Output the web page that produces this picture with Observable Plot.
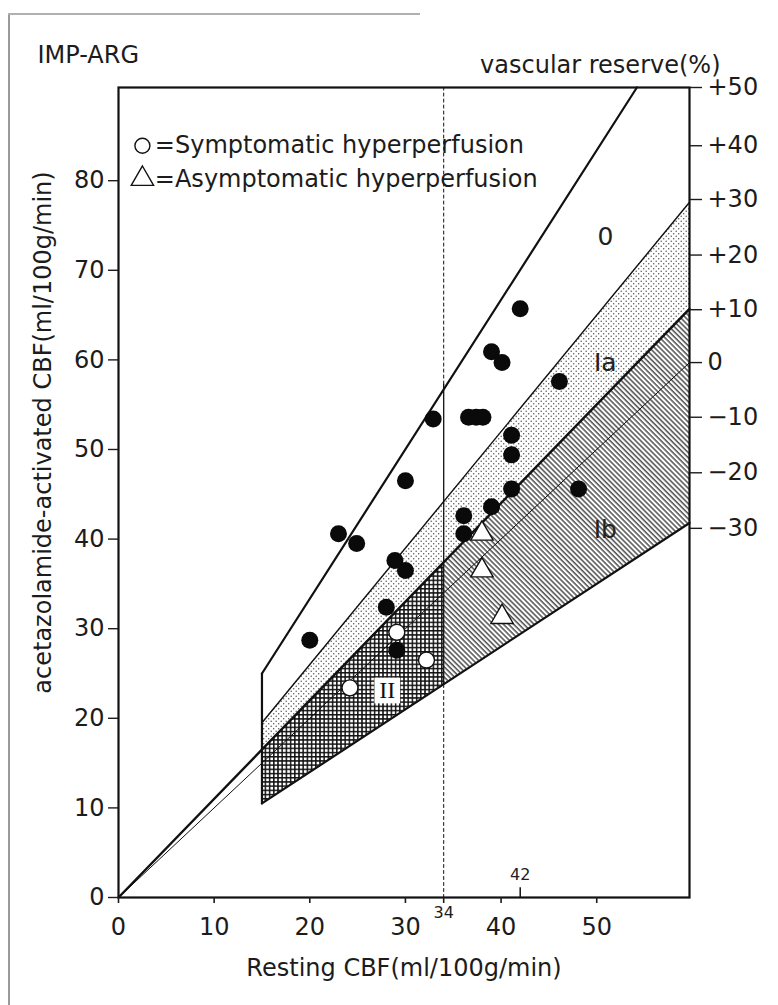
<!DOCTYPE html>
<html><head><meta charset="utf-8">
<script src="https://cdn.jsdelivr.net/npm/d3@7"></script>
<script src="https://cdn.jsdelivr.net/npm/@observablehq/plot@0.6"></script>
<style>
body{margin:0;background:#fff;}
#wrap{position:relative;width:778px;height:1005px;overflow:hidden;}
#wrap svg{position:absolute;left:0;top:0;}
.bl{position:absolute;left:8px;top:13px;width:1.5px;height:992px;background:#9a9a9a;}
.bt{position:absolute;left:8px;top:13px;width:412px;height:1.5px;background:#b0b0b0;}
</style></head><body>
<div id="wrap"></div>
<script>
// ---- axis extents ----
const xDomain = [0, 59.7];
const yDomain = [0, 90.4];
const xTicks = [0, 10, 20, 30, 40, 50];
const yTicks = [0, 10, 20, 30, 40, 50, 60, 70, 80];
const cutoffTick = [34];
const markTick = [42];
// right axis: vascular reserve (%) labels and their position on the y scale
const reserveLabels = ["+50", "+40", "+30", "+20", "+10", "0", "−10", "−20", "−30"];
const reserveY = [90.4, 83.9, 77.9, 71.7, 65.6, 59.7, 53.6, 47.4, 41.2];

// ---- boundary lines (endpoints) ----
const lineTopX = [15, 54.2], lineTopY = [25, 90.4];
const linePlus30X = [15, 59.7], linePlus30Y = [19.5, 77.6];
const linePlus10X = [0, 59.7], linePlus10Y = [0, 65.7];
const lineZeroX = [0, 59.7], lineZeroY = [0, 59.7];
const lineMinus30X = [15, 59.7], lineMinus30Y = [10.5, 41.8];
const leftEdgeX = [15, 15], leftEdgeY = [10.5, 25];
const cutSolidY = [23.8, 57.3];
const cutDashLowY = [0, 23.8];
const cutDashHighY = [57.3, 90.4];

// ---- shaded regions ----
const regIaX = [15, 59.7], regIaLo = [16.5, 65.7], regIaHi = [19.5, 77.6];
const regIIX = [15, 34], regIILo = [10.5, 23.8], regIIHi = [16.5, 37.4];
const regIbX = [34, 59.7], regIbLo = [23.8, 41.8], regIbHi = [37.4, 65.7];

// ---- patients ----
const blackX = [20.0, 23.0, 24.9, 28.0, 28.9, 29.1, 30.0, 30.0, 32.9, 36.6, 37.4, 38.1, 36.1, 36.1, 39.0, 39.0, 40.1, 41.1, 41.1, 41.1, 42.0, 46.1, 48.1];
const blackY = [28.7, 40.6, 39.5, 32.4, 37.6, 27.6, 36.5, 46.5, 53.4, 53.6, 53.6, 53.6, 42.6, 40.6, 43.6, 60.9, 59.7, 51.6, 49.4, 45.6, 65.7, 57.6, 45.6];
const sympX = [24.2, 29.1, 32.2];
const sympY = [23.4, 29.6, 26.5];
const asympX = [38.0, 38.0, 40.1];
const asympY = [40.6, 36.5, 31.3];

// ---- region labels ----
const regionNames = ["0", "Ia", "Ib"];
const regionNameX = [50.9, 50.9, 50.9];
const regionNameY = [73.7, 59.6, 41.0];
const regionIIName = "II";
const regionIIX = 28.1, regionIIY = 23.1;

// ---- legend ----
const legendText = ["=Symptomatic hyperperfusion", "=Asymptomatic hyperperfusion"];
const legendX = 2.5, legendTextX = 3.8;
const legendY = [83.9, 80.2];

const rows2 = (xs, ys) => xs.map((x, i) => ({x, y: ys[i]}));
const band = (xs, lo, hi) => xs.map((x, i) => ({x, lo: lo[i], hi: hi[i]}));

const ink = "#111";
const serif = "Liberation Serif";

const chart = Plot.plot({
  width: 778, height: 1005,
  marginTop: 87, marginBottom: 108, marginLeft: 118, marginRight: 89,
  x: {domain: xDomain},
  y: {domain: yDomain},
  style: {fontFamily: "DejaVu Sans", fontSize: "24px", color: "#1c1c1c", background: "white", overflow: "visible"},
  marks: [
    Plot.areaY(band(regIaX, regIaLo, regIaHi), {x: "x", y1: "lo", y2: "hi", fill: "url(#stip)"}),
    Plot.areaY(band(regIIX, regIILo, regIIHi), {x: "x", y1: "lo", y2: "hi", fill: "url(#cross)"}),
    Plot.areaY(band(regIbX, regIbLo, regIbHi), {x: "x", y1: "lo", y2: "hi", fill: "url(#hatch)"}),
    // cutoff at 34
    Plot.line(rows2([34, 34], cutDashLowY), {x: "x", y: "y", stroke: ink, strokeWidth: 1, strokeDasharray: "3,3"}),
    Plot.line(rows2([34, 34], cutDashHighY), {x: "x", y: "y", stroke: ink, strokeWidth: 1, strokeDasharray: "3,3"}),
    Plot.line(rows2([34, 34], cutSolidY), {x: "x", y: "y", stroke: ink, strokeWidth: 1.3}),
    // boundaries
    Plot.line(rows2(lineZeroX, lineZeroY), {x: "x", y: "y", stroke: ink, strokeWidth: 1}),
    Plot.line(rows2(linePlus30X, linePlus30Y), {x: "x", y: "y", stroke: ink, strokeWidth: 1.4}),
    Plot.line(rows2(linePlus10X, linePlus10Y), {x: "x", y: "y", stroke: ink, strokeWidth: 2.4}),
    Plot.line(rows2(lineMinus30X, lineMinus30Y), {x: "x", y: "y", stroke: ink, strokeWidth: 2.2}),
    Plot.line(rows2(lineTopX, lineTopY), {x: "x", y: "y", stroke: ink, strokeWidth: 2.2}),
    Plot.line(rows2(leftEdgeX, leftEdgeY), {x: "x", y: "y", stroke: ink, strokeWidth: 2.2}),
    // region II label box
    Plot.dot([0], {x: () => regionIIX, y: () => regionIIY, symbol: "square", r: 14.5, fill: "white"}),
    Plot.text([regionIIName], {x: () => regionIIX, y: () => regionIIY, fontFamily: serif, fontSize: 24, fill: ink}),
    // patients
    Plot.dot(rows2(blackX, blackY), {x: "x", y: "y", r: 8.5, fill: "#0a0a0a"}),
    Plot.dot(rows2(sympX, sympY), {x: "x", y: "y", r: 8, fill: "white", stroke: ink, strokeWidth: 1.4}),
    Plot.dot(rows2(asympX, asympY), {x: "x", y: "y", symbol: "triangle", r: 8.3, fill: "white", stroke: ink, strokeWidth: 1.4}),
    // region labels
    Plot.text(regionNames, {x: (d, i) => regionNameX[i], y: (d, i) => regionNameY[i], text: d => d,
      fontFamily: (d) => d === "0" ? "DejaVu Sans" : serif, fontSize: 25, fill: "#222"}),
    // legend
    Plot.dot([0], {x: () => legendX, y: () => legendY[0], r: 7.5, fill: "white", stroke: ink, strokeWidth: 1.4}),
    Plot.dot([0], {x: () => legendX, y: () => legendY[1], symbol: "triangle", r: 8.3, fill: "white", stroke: ink, strokeWidth: 1.4}),
    Plot.text(legendText, {x: () => legendTextX, y: (d, i) => legendY[i], text: d => d, textAnchor: "start", fontSize: 24, fill: "#1c1c1c"}),
    // frame and axes
    Plot.frame({stroke: ink, strokeWidth: 2.2}),
    Plot.axisX({ticks: xTicks, tickSize: 6, tickPadding: 14, fontSize: 24, label: null, strokeWidth: 1.6}),
    Plot.axisX({ticks: cutoffTick, tickSize: 6, tickPadding: 3, fontSize: 16, label: null, strokeWidth: 1.6}),
    Plot.axisY({ticks: yTicks, tickSize: 10, tickPadding: 4, fontSize: 24, label: null, strokeWidth: 1.4}),
    Plot.axisY({anchor: "right", ticks: reserveY, tickFormat: d => reserveLabels[reserveY.indexOf(d)], tickSize: 12, tickPadding: 6, fontSize: 24, label: null, strokeWidth: 1.4}),
    Plot.ruleX(markTick, {x: d => d, y1: 0, y2: 1.1, stroke: ink, strokeWidth: 1.5}),
    Plot.text(markTick, {x: d => d, y: 0, dy: -23, text: d => String(d), fontSize: 16, fill: "#222"}),
    // titles
    Plot.text(["IMP-ARG"], {frameAnchor: "top-left", dx: 37 - 118, dy: 55 - 87, textAnchor: "start", lineAnchor: "middle", fontSize: 24, fill: "#1c1c1c"}),
    Plot.text(["vascular reserve(%)"], {frameAnchor: "top-right", dx: 31, dy: 65 - 87, textAnchor: "end", lineAnchor: "middle", fontSize: 24, fill: "#1c1c1c"}),
    Plot.text(["Resting CBF(ml/100g/min)"], {frameAnchor: "bottom", dy: 968 - 897, lineAnchor: "middle", fontSize: 24, fill: "#1c1c1c"}),
    Plot.text(["acetazolamide-activated CBF(ml/100g/min)"], {frameAnchor: "left", dx: 43 - 118, dy: 432 - 492, rotate: -90, textAnchor: "middle", lineAnchor: "middle", fontSize: 24, fill: "#1c1c1c"})
  ]
});

// patterns for the shaded zones
const svg = d3.select(chart);
const defs = svg.insert("defs", ":first-child");
const stip = defs.append("pattern").attr("id", "stip").attr("patternUnits", "userSpaceOnUse").attr("width", 5).attr("height", 5);
stip.append("rect").attr("width", 5).attr("height", 5).attr("fill", "#fff");
stip.append("circle").attr("cx", 1.2).attr("cy", 1.2).attr("r", 0.75).attr("fill", "#555");
stip.append("circle").attr("cx", 3.7).attr("cy", 3.7).attr("r", 0.75).attr("fill", "#555");
const hatch = defs.append("pattern").attr("id", "hatch").attr("patternUnits", "userSpaceOnUse").attr("width", 3.6).attr("height", 3.6).attr("patternTransform", "rotate(-45)");
hatch.append("rect").attr("width", 3.6).attr("height", 3.6).attr("fill", "#fff");
hatch.append("line").attr("x1", 1).attr("y1", 0).attr("x2", 1).attr("y2", 3.6).attr("stroke", "#333").attr("stroke-width", 1.3);
const cross = defs.append("pattern").attr("id", "cross").attr("patternUnits", "userSpaceOnUse").attr("width", 4.2).attr("height", 4.2);
cross.append("rect").attr("width", 4.2).attr("height", 4.2).attr("fill", "#fff");
cross.append("path").attr("d", "M0,0.8H4.2M0.8,0V4.2").attr("stroke", "#111").attr("stroke-width", 1.5).attr("fill", "none");

const wrap = document.getElementById("wrap");
wrap.appendChild(chart);
const bl = document.createElement("div"); bl.className = "bl"; wrap.appendChild(bl);
const bt = document.createElement("div"); bt.className = "bt"; wrap.appendChild(bt);
</script>
</body></html>
